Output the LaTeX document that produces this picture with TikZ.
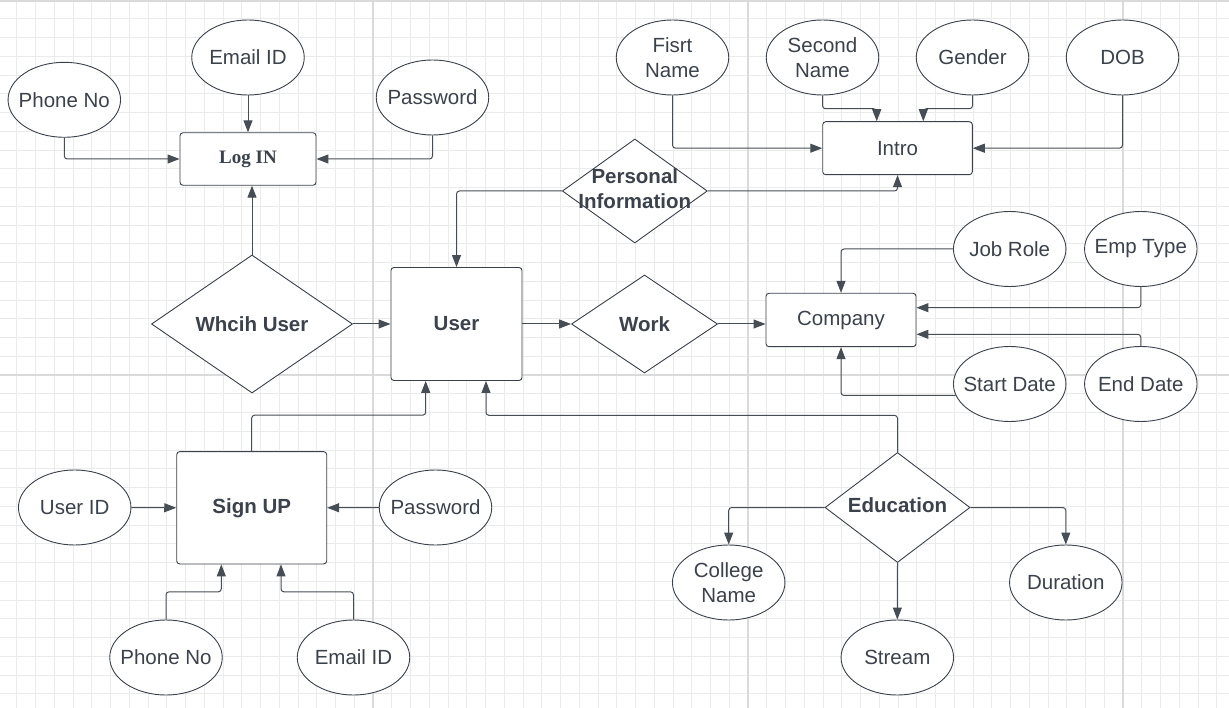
\documentclass[tikz,border=0pt]{standalone}
\usepackage{fontspec}
\setmainfont{Liberation Sans}
\newfontfamily\serifbold{Liberation Serif}
\usetikzlibrary{shapes.geometric,arrows.meta}
\definecolor{ink}{HTML}{3A414A}
\definecolor{txt}{HTML}{3B424C}
\definecolor{wire}{HTML}{474D55}
\definecolor{gridminor}{HTML}{EBEBEB}
\definecolor{gridmajor}{HTML}{DADADA}
\begin{document}
\begin{tikzpicture}[x=1pt,y=-1pt,
  lbl/.style={text=txt,font=\fontsize{20.5}{25}\selectfont,align=center},
  attr/.style={ellipse,draw=ink,line width=0.9pt,fill=white,minimum width=112.5pt,minimum height=75pt,inner xsep=-25pt,inner ysep=0pt,lbl},
  ent/.style={rectangle,rounded corners=3pt,draw=ink,line width=0.9pt,fill=white,inner sep=0pt,lbl},
  rel/.style={diamond,draw=ink,line width=0.9pt,fill=white,inner sep=0pt},
  rtext/.style={text=txt,font=\bfseries\fontsize{20.5}{25}\selectfont,align=center},
  conn/.style={draw=wire,line width=1pt,rounded corners=3pt,-{Triangle[length=12pt,width=9pt]}}
]
\useasboundingbox (0,0) rectangle (1229,708);
\fill[white] (0,0) rectangle (1229,708);
% grid
\foreach \i in {0,...,65} \draw[gridminor,line width=0.9pt] ({16.75+18.75*\i},0) -- ({16.75+18.75*\i},708);
\foreach \j in {0,...,37} \draw[gridminor,line width=0.9pt] (0,{18.75*\j}) -- (1229,{18.75*\j});
\foreach \x in {373,748,1123} \draw[gridmajor,line width=1.3pt] (\x,0) -- (\x,708);
\draw[gridmajor,line width=1.3pt] (0,375) -- (1229,375);
\draw[gridmajor,line width=2.5pt] (0,1.2) -- (1229,1.2);

% entities
\node[ent,minimum width=136pt,minimum height=52.5pt,font=\serifbold\bfseries\fontsize{19}{23}\selectfont] (login) at (248,159) {Log IN};
\node[ent,minimum width=131pt,minimum height=113pt,font=\bfseries\fontsize{20.5}{25}\selectfont] (user) at (456.5,324) {User};
\node[ent,minimum width=150pt,minimum height=53.4pt] (company) at (841,320) {Company};
\node[ent,minimum width=149.6pt,minimum height=53pt] (intro) at (897.5,148.2) {Intro};
\node[ent,minimum width=150pt,minimum height=112.3pt,font=\bfseries\fontsize{20.5}{25}\selectfont] (signup) at (251.7,507.8) {Sign UP};

% relationships
\node[rel,minimum width=201pt,minimum height=138pt,label={[rtext]center:Whcih User}] (which) at (252,324) {};
\node[rel,minimum width=146pt,minimum height=98pt,label={[rtext]center:Work}] (work) at (644.5,324) {};
\node[rel,minimum width=145pt,minimum height=104pt,label={[rtext,yshift=2pt]center:Personal\\Information}] (pinfo) at (634.8,191) {};
\node[rel,minimum width=145pt,minimum height=110pt,label={[rtext,yshift=2pt]center:Education}] (edu) at (897.5,507.5) {};

% attributes
\node[attr] (phone1) at (64.3,99.8) {Phone No};
\node[attr] (email1) at (248,57.5) {Email ID};
\node[attr] (pass1) at (432.5,97.5) {Password};
\node[attr] (fname) at (672.5,57.5) {Fisrt\\Name};
\node[attr] (sname) at (822.5,57.5) {Second\\Name};
\node[attr] (gender) at (972.5,57.5) {Gender};
\node[attr] (dob) at (1122.5,57.5) {DOB};
\node[attr] (jobrole) at (1009.7,249) {Job Role};
\node[attr] (emptype) at (1140.8,249) {Emp Type};
\node[attr] (startdate) at (1009.7,384) {Start Date};
\node[attr] (enddate) at (1140.8,384) {End Date};
\node[attr] (userid) at (74.7,507.5) {User ID};
\node[attr] (pass2) at (435.5,507.5) {Password};
\node[attr] (phone2) at (166,657.5) {Phone No};
\node[attr] (email2) at (353.5,657.5) {Email ID};
\node[attr] (college) at (728.7,582.5) {College\\Name};
\node[attr] (duration) at (1065.8,582.5) {Duration};
\node[attr] (stream) at (897.3,657.5) {Stream};

% connectors: Log IN
\draw[conn] (phone1.south) |- (login.west);
\draw[conn] (email1.south) -- (login.north);
\draw[conn] (pass1.south) |- (login.east);
\draw[conn] (which.north) -- (which.north |- login.south);
\draw[conn] (which.east) -- (user.west);
\draw[conn] (user.east) -- (work.west);
\draw[conn] (work.east) -- (work.east -| company.west);
% personal information
\draw[conn] (pinfo.west) -| (user.north);
\draw[conn] (pinfo.east) -| (intro.south);
\draw[conn] (fname.south) |- (intro.west);
\draw[conn] (sname.south) -- ++(0,13.3) -| ([xshift=-20.8pt]intro.north);
\draw[conn] (gender.south) -- ++(0,13.3) -| ([xshift=25.8pt]intro.north);
\draw[conn] (dob.south) |- (intro.east);
% company
\draw[conn] (jobrole.west) -| (company.north);
\draw[conn] (emptype.south) |- ([yshift=12.3pt]company.east);
\draw[conn] (enddate.north) |- ([yshift=-14.3pt]company.east);
\draw[conn] (startdate.192) -| (company.south);
% sign up / education to user
\draw[conn] (signup.north) -- ++(0,-36) -| ([xshift=-30.8pt]user.south);
\draw[conn] (edu.north) -- ++(0,-36.7) -| ([xshift=29.5pt]user.south);
% sign up attributes
\draw[conn] (userid.east) -- (signup.west);
\draw[conn] (pass2.west) -- (signup.east);
\draw[conn] (phone2.north) -- ++(0,-27.7) -| ([xshift=-30.4pt]signup.south);
\draw[conn] (email2.north) -- ++(0,-27.7) -| ([xshift=29.3pt]signup.south);
% education attributes
\draw[conn] (edu.west) -| (college.north);
\draw[conn] (edu.east) -| (duration.north);
\draw[conn] (edu.south) -- (stream.north);
\end{tikzpicture}
\end{document}
